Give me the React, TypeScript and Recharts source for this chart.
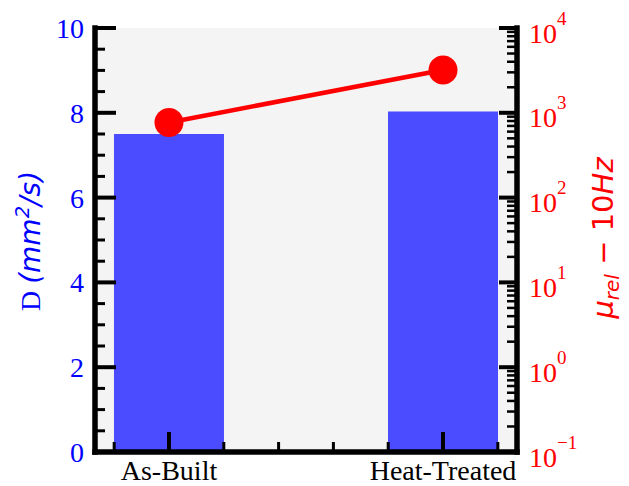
import React from "react";
import { ComposedChart, Bar, Line, XAxis, YAxis, CartesianGrid } from "recharts";

const categories = ["As-Built", "Heat-Treated"];
const diffusivity = [7.5, 8.03];
const permeability = [770, 3200];

const xTicks = [-0.2, 0, 0.2, 0.4, 0.6, 0.8, 1, 1.2];
const leftTicks = [0, 0.5, 1, 1.5, 2, 2.5, 3, 3.5, 4, 4.5, 5, 5.5, 6, 6.5, 7, 7.5, 8, 8.5, 9, 9.5, 10];
const logTicks = [
  0.1, 0.2, 0.3, 0.4, 0.5, 0.6, 0.7, 0.8, 0.9,
  1, 2, 3, 4, 5, 6, 7, 8, 9,
  10, 20, 30, 40, 50, 60, 70, 80, 90,
  100, 200, 300, 400, 500, 600, 700, 800, 900,
  1000, 2000, 3000, 4000, 5000, 6000, 7000, 8000, 9000,
  10000,
];

const data = categories.map((name, i) => ({
  x: i,
  name,
  D: diffusivity[i],
  mu: permeability[i],
}));

const SERIF = "'Liberation Serif', 'Times New Roman', serif";
const SANS = "'DejaVu Sans', sans-serif";
const frame = { stroke: "#000", strokeWidth: 5.5, strokeLinecap: "square" as const };

const BottomTick = (props: any) => {
  const { x, y, payload } = props;
  const v = payload.value;
  const idx = categories.findIndex((_, i) => Math.abs(v - i) < 1e-6);
  const major = idx >= 0;
  return (
    <g>
      <line x1={x} x2={x} y1={y} y2={y - (major ? 20 : 10)} stroke="#000" strokeWidth={major ? 4 : 3} />
      {major && (
        <text x={x} y={y + 28} textAnchor="middle" fontFamily={SERIF} fontSize={28} fill="#000">
          {categories[idx]}
        </text>
      )}
    </g>
  );
};

const LeftTick = (props: any) => {
  const { x, y, payload } = props;
  const v = payload.value;
  const major = v % 2 === 0;
  return (
    <g>
      <line x1={x} x2={x + (major ? 21 : 10)} y1={y} y2={y} stroke="#000" strokeWidth={major ? 4 : 3} />
      {major && (
        <text x={x - 11} y={y + 10} textAnchor="end" fontFamily={SERIF} fontSize={28} fill="#0000ff">
          {v}
        </text>
      )}
    </g>
  );
};

const RightTick = (props: any) => {
  const { x, y, payload } = props;
  const v = payload.value;
  const lg = Math.log10(v);
  const e = Math.round(lg);
  const major = Math.abs(lg - e) < 1e-6;
  return (
    <g>
      <line x1={x} x2={x - (major ? 18 : 10)} y1={y} y2={y} stroke="#000" strokeWidth={major ? 4 : 2.5} />
      {major && (
        <text x={x + 12} y={y + 14.5} fontFamily={SERIF} fontSize={28} fill="#ff0000">
          10
          <tspan dy={-18} fontSize={19}>
            {e < 0 ? "\u2212" + Math.abs(e) : e}
          </tspan>
        </text>
      )}
    </g>
  );
};

export default function App() {
  return (
    <div style={{ position: "absolute", left: 0, top: 0, background: "#fff" }}>
      <ComposedChart width={629} height={486} data={data} margin={{ top: 28, right: 0, bottom: 0, left: 0 }}>
        <CartesianGrid horizontal={false} vertical={false} fill="#f4f4f4" />
        <Bar
          yAxisId="left"
          dataKey="D"
          fill="#4b4bff"
          barSize={110}
          isAnimationActive={false}
        />
        <Line
          yAxisId="right"
          dataKey="mu"
          stroke="#ff0000"
          strokeWidth={4.5}
          dot={{ r: 14.5, fill: "#ff0000", stroke: "none" }}
          activeDot={false}
          isAnimationActive={false}
        />
        <XAxis
          dataKey="x"
          type="number"
          domain={[-0.27, 1.27]}
          ticks={xTicks}
          interval={0}
          allowDataOverflow
          height={34}
          tickSize={0}
          tickMargin={0}
          tickLine={false}
          axisLine={frame}
          tick={<BottomTick />}
        />
        <XAxis
          xAxisId="top"
          orientation="top"
          type="number"
          domain={[-0.27, 1.27]}
          allowDataOverflow
          height={0}
          tick={false}
          tickLine={false}
          axisLine={frame}
        />
        <YAxis
          yAxisId="left"
          type="number"
          domain={[0, 10]}
          ticks={leftTicks}
          interval={0}
          allowDataOverflow
          width={95}
          tickSize={0}
          tickMargin={0}
          tickLine={false}
          axisLine={frame}
          tick={<LeftTick />}
        />
        <YAxis
          yAxisId="right"
          orientation="right"
          type="number"
          scale="log"
          domain={[0.1, 10000]}
          ticks={logTicks}
          interval={0}
          allowDataOverflow
          width={112}
          tickSize={0}
          tickMargin={0}
          tickLine={false}
          axisLine={frame}
          tick={<RightTick />}
        />
        <text
          x={40}
          y={241}
          transform="rotate(-90 40 241)"
          textAnchor="middle"
          fontSize={28}
          fill="#0000ff"
        >
          <tspan fontFamily={SERIF}>D </tspan>
          <tspan fontFamily={SANS} fontStyle="italic">(mm</tspan>
          <tspan fontFamily={SANS} fontStyle="italic" fontSize={19.6} dy={-11}>2</tspan>
          <tspan fontFamily={SANS} fontStyle="italic" dy={11}>/s)</tspan>
        </text>
        <text
          x={613}
          y={238}
          transform="rotate(-90 613 238)"
          textAnchor="middle"
          fontFamily={SANS}
          fontSize={29}
          fill="#ff0000"
        >
          <tspan fontStyle="italic">μ</tspan>
          <tspan fontStyle="italic" fontSize={20} dy={6}>rel</tspan>
          <tspan dy={-6}> − 10</tspan>
          <tspan fontStyle="italic">Hz</tspan>
        </text>
      </ComposedChart>
    </div>
  );
}
